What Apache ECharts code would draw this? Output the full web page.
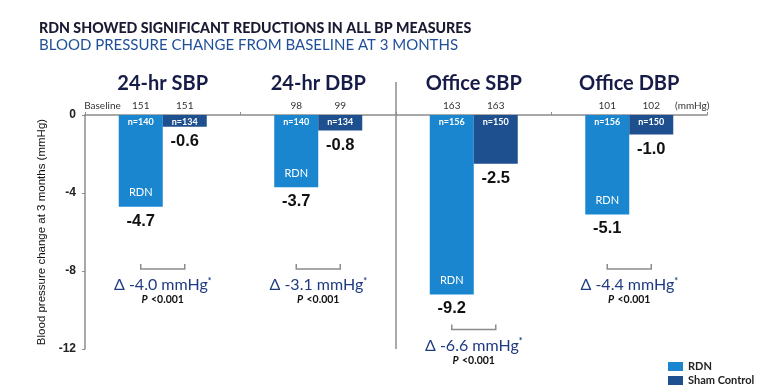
<!DOCTYPE html>
<html>
<head>
<meta charset="utf-8">
<script src="https://cdn.jsdelivr.net/npm/echarts@6/dist/echarts.min.js"></script>
<style>
html,body{margin:0;padding:0;background:#fff;}
#chart{width:770px;height:391px;}
</style>
</head>
<body>
<div id="chart"></div>
<script>
// ---- data ----
const categories = ['24-hr SBP', '24-hr DBP', 'Office SBP', 'Office DBP'];
const rdnValues = [-4.7, -3.7, -9.2, -5.1];
const shamValues = [-0.6, -0.8, -2.5, -1.0];
const rdnBaseline = ['151', '98', '163', '101'];
const shamBaseline = ['151', '99', '163', '102'];
const rdnN = ['n=140', 'n=140', 'n=156', 'n=156'];
const shamN = ['n=134', 'n=134', 'n=150', 'n=150'];
const deltaText = ['-4.0', '-3.1', '-6.6', '-4.4'];
const pText = ['<0.001', '<0.001', '<0.001', '<0.001'];
const bracketLevel = [-7.9, -7.9, -11.0, -7.9];
const yTicks = [0, -4, -8, -12];

const RDN_COLOR = '#1a86d0';
const SHAM_COLOR = '#1e4f8e';
const SANS = 'Lato, "Open Sans", sans-serif';
const ARIAL = '"Liberation Sans", Arial, sans-serif';
const BAR_W = 44;

const chart = echarts.init(document.getElementById('chart'));

function renderAnnot(params, api) {
  const i = api.value(0);
  const zero = api.coord([i, 0]);
  const cx = zero[0];
  const xR = cx - BAR_W / 2;
  const xS = cx + BAR_W / 2;
  const y0 = zero[1];
  const yBottom = api.coord([i, -12])[1];
  const rdnBottom = api.coord([i, rdnValues[i]])[1];
  const yb = api.coord([i, bracketLevel[i]])[1];
  const children = [];
  const txt = (x, y, text, style) => ({
    type: 'text', x: x, y: y,
    style: Object.assign({ text: text, align: 'center', verticalAlign: 'middle' }, style)
  });
  // baselines
  children.push(txt(xR, y0 - 9, rdnBaseline[i], { font: '10px ' + SANS, fill: '#333' }));
  children.push(txt(xS, y0 - 9, shamBaseline[i], { font: '10px ' + SANS, fill: '#333' }));
  // n labels
  children.push(txt(xR, y0 + 7, rdnN[i], { font: 'bold 9px ' + SANS, fill: '#fff' }));
  children.push(txt(xS, y0 + 7, shamN[i], { font: 'bold 9px ' + SANS, fill: '#fff' }));
  // RDN label inside bar
  children.push(txt(xR, rdnBottom - 14, 'RDN', { font: '11px ' + SANS, fill: '#fff' }));
  // bracket
  children.push({
    type: 'polyline',
    shape: { points: [[xR, yb - 5], [xR, yb], [xS, yb], [xS, yb - 5]] },
    style: { stroke: '#8c8c8c', lineWidth: 1.5, fill: null }
  });
  // delta text
  children.push({
    type: 'text', x: cx, y: yb + 16,
    style: {
      text: '{d|Δ ' + deltaText[i] + ' mmHg}{s|*}',
      align: 'center', verticalAlign: 'middle',
      rich: {
        d: { font: '16px ' + SANS, fill: '#1f3b82' },
        s: { font: 'bold 9px ' + SANS, fill: '#1f3b82', verticalAlign: 'top', padding: [0, 0, 8, 0] }
      }
    }
  });
  children.push({
    type: 'text', x: cx, y: yb + 31,
    style: {
      text: '{p|P} {v|' + pText[i] + '}',
      align: 'center', verticalAlign: 'middle',
      rich: {
        p: { font: 'italic bold 10.5px ' + SANS, fill: '#111' },
        v: { font: 'bold 10.5px ' + SANS, fill: '#111' }
      }
    }
  });
  if (i === 0) {
    children.push({
      type: 'text', x: xR - 20, y: y0 - 9,
      style: { text: 'Baseline', align: 'right', verticalAlign: 'middle', font: '10px ' + SANS, fill: '#333' }
    });
  }
  if (i === categories.length - 1) {
    children.push(txt(xS + 41, y0 - 9, '(mmHg)', { font: '10px ' + SANS, fill: '#333' }));
  }
  if (i === 2) {
    const prev = api.coord([1, 0])[0];
    const xm = (prev + cx) / 2;
    children.push({
      type: 'line',
      shape: { x1: xm, y1: y0 - 33, x2: xm, y2: yBottom },
      style: { stroke: '#8c8c8c', lineWidth: 1.5 }
    });
  }
  return { type: 'group', children: children };
}

chart.setOption({
  animation: false,
  backgroundColor: '#fff',
  title: {
    text: 'RDN SHOWED SIGNIFICANT REDUCTIONS IN ALL BP MEASURES',
    subtext: 'BLOOD PRESSURE CHANGE FROM BASELINE AT 3 MONTHS',
    left: 34, top: 16,
    itemGap: 3,
    textStyle: { fontFamily: SANS, fontWeight: 900, fontSize: 14.2, color: '#1a1a33' },
    subtextStyle: { fontFamily: SANS, fontSize: 15, color: '#1f4f9a' }
  },
  legend: {
    orient: 'vertical',
    left: 663, top: 356,
    itemWidth: 15, itemHeight: 9, itemGap: 3,
    icon: 'rect',
    textStyle: { fontFamily: SANS, fontWeight: 'bold', fontSize: 11, color: '#222' },
    data: ['RDN', 'Sham Control']
  },
  grid: { left: 85, right: 63, top: 115, bottom: 42 },
  xAxis: {
    type: 'category',
    position: 'top',
    data: categories,
    axisLine: { lineStyle: { color: '#8c8c8c', width: 1.5 } },
    axisTick: { show: true, length: 3, lineStyle: { color: '#8c8c8c' } },
    axisLabel: {
      margin: 21,
      fontFamily: SANS, fontWeight: 'bold', fontSize: 20, color: '#161c47'
    }
  },
  yAxis: {
    type: 'value',
    min: -12, max: 0, interval: 4,
    name: 'Blood pressure change at 3 months (mmHg)',
    nameLocation: 'middle', nameGap: 37,
    nameTextStyle: { fontFamily: ARIAL, fontSize: 11.5, color: '#111' },
    axisLine: { show: true, lineStyle: { color: '#8c8c8c', width: 1.5 } },
    axisTick: { show: true, length: 3, lineStyle: { color: '#8c8c8c' } },
    splitLine: { show: false },
    axisLabel: {
      margin: 9,
      fontFamily: ARIAL, fontWeight: 'bold', fontSize: 12, color: '#222',
      formatter: v => (yTicks.indexOf(v) >= 0 ? String(v) : '')
    }
  },
  series: [
    {
      name: 'RDN', type: 'bar', data: rdnValues,
      barWidth: BAR_W, barGap: '0%',
      itemStyle: { color: RDN_COLOR },
      label: {
        show: true, position: 'bottom', distance: 6,
        fontFamily: ARIAL, fontWeight: 'bold', fontSize: 16.5, color: '#111',
        formatter: p => p.value.toFixed(1)
      }
    },
    {
      name: 'Sham Control', type: 'bar', data: shamValues,
      barWidth: BAR_W, barGap: '0%',
      itemStyle: { color: SHAM_COLOR },
      label: {
        show: true, position: 'bottom', distance: 6,
        fontFamily: ARIAL, fontWeight: 'bold', fontSize: 16.5, color: '#111',
        formatter: p => p.value.toFixed(1)
      }
    },
    {
      name: 'annot', type: 'custom',
      clip: false, silent: true,
      renderItem: renderAnnot,
      encode: { x: 0, y: 1 },
      data: categories.map((c, i) => [i, 0]),
      z: 5
    }
  ]
});
</script>
</body>
</html>
